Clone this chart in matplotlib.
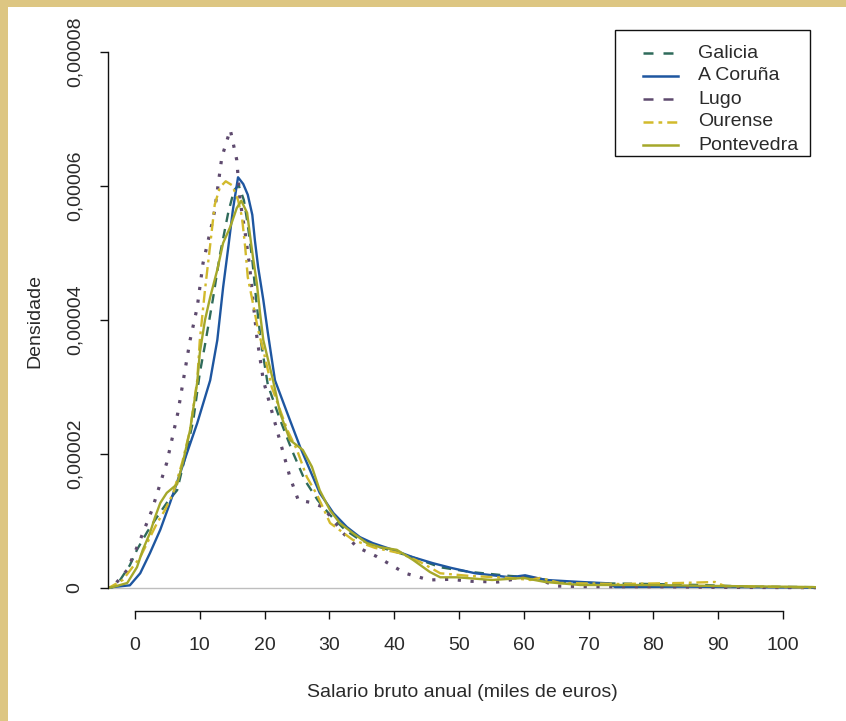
import numpy as np
import matplotlib
matplotlib.use('Agg')
import matplotlib.pyplot as plt
from matplotlib.patches import Rectangle
from matplotlib.lines import Line2D

plt.rcParams['font.family'] = ['Liberation Sans', 'DejaVu Sans']

# density curves (x in miles de euros, y in units of 1e-6)
galicia_x = [-4.5, -3.5, -2.3, -0.8, 0.3, 1.9, 3.4, 4.9, 6.5, 8.0, 9.0, 10.0, 10.8, 12.0, 13.1, 14.4, 15.3, 16.0,
             16.8, 17.4, 18.1, 18.7, 19.4, 20.5, 22.4, 24.2, 26.2, 28.2, 30.1, 32.4, 34.7, 37.8, 40.9, 44.0, 47.1,
             51.7, 57.9, 61.0, 65.6, 71.8, 79.5, 87.2, 94.9, 102.6, 105.5]
galicia_y = [0.0, 0.1, 1.2, 3.4, 5.7, 8.4, 10.6, 12.7, 14.6, 20.6, 25.1, 32.1, 36.3, 43.0, 49.7, 56.1, 59.4, 60.1,
             57.9, 54.2, 49.0, 43.0, 37.0, 30.3, 25.1, 20.6, 16.1, 13.1, 10.9, 8.7, 7.2, 6.1, 5.2, 4.2, 3.1,
             2.4, 1.8, 1.6, 0.9, 0.7, 0.6, 0.45, 0.2, 0.15, 0.1]

coruna_x = [-4.5, -3.9, -0.8, 0.8, 2.3, 3.9, 5.4, 6.6, 8.0, 9.6, 11.6, 12.7, 13.6, 14.4, 15.1, 15.9, 16.7, 17.4,
            18.1, 18.5, 19.0, 19.8, 20.5, 21.6, 23.5, 25.5, 27.0, 28.5, 30.6, 32.7, 34.7, 36.7, 39.8, 42.9, 46.0,
            48.8, 52.5, 57.9, 60.2, 63.4, 68.8, 73.1, 74.1, 85.0, 105.5]
coruna_y = [0.0, 0.1, 0.4, 2.2, 5.2, 8.7, 12.7, 16.1, 20.1, 24.6, 31.0, 37.0, 44.9, 50.9, 56.4, 61.3, 60.3, 58.7,
            55.7, 51.9, 47.9, 43.0, 38.1, 31.0, 26.1, 21.0, 17.6, 14.2, 11.2, 9.1, 7.6, 6.7, 5.7, 4.6, 3.7,
            3.0, 2.2, 1.6, 1.9, 1.2, 0.9, 0.7, 0.15, 0.2, 0.05]

lugo_x = [-4.5, -3.4, -1.2, 0.8, 2.6, 4.9, 6.6, 8.5, 9.6, 10.5, 12.0, 12.3, 13.4, 14.7, 15.7, 16.2, 17.0, 17.7,
          18.2, 18.8, 19.8, 21.9, 23.9, 25.2, 27.0, 29.0, 32.1, 34.3, 37.3, 41.7, 45.4, 48.6, 52.0, 56.0, 60.3,
          62.0, 65.0, 70.0, 80.0, 90.0, 105.5]
lugo_y = [0.0, 0.2, 2.7, 7.2, 11.6, 18.7, 26.1, 37.0, 41.9, 48.5, 54.9, 56.4, 64.3, 68.4, 63.9, 57.9, 53.0, 47.9,
          43.0, 37.5, 31.0, 23.6, 16.6, 13.1, 12.8, 12.1, 8.2, 6.1, 4.7, 2.2, 1.2, 1.3, 1.0, 0.9, 1.6,
          1.4, 0.3, 0.2, 0.2, 0.1, 0.05]

ourense_x = [-4.5, -3.9, -1.9, 0.8, 3.4, 4.6, 5.9, 7.3, 8.5, 9.6, 10.0, 10.8, 11.6, 12.3, 13.1, 14.0, 15.0, 15.9,
             16.5, 17.0, 17.4, 18.1, 19.0, 19.8, 21.1, 23.5, 25.0, 26.5, 28.1, 30.1, 33.6, 37.0, 40.9, 44.0,
             47.1, 51.7, 57.9, 61.0, 62.5, 65.6, 74.8, 84.1, 89.5, 91.0, 105.5]
ourense_y = [0.0, 0.1, 1.2, 4.6, 9.7, 11.6, 14.2, 18.8, 23.6, 31.0, 37.0, 44.5, 51.2, 57.2, 59.8, 60.7, 60.1, 57.9,
             55.4, 50.9, 46.4, 43.0, 38.5, 35.5, 30.0, 23.6, 20.6, 16.6, 13.9, 9.7, 7.2, 6.0, 5.2, 3.9,
             2.2, 1.8, 1.5, 1.2, 1.5, 0.75, 0.6, 0.75, 0.9, 0.3, 0.05]

ponte_x = [-4.5, -3.4, -1.2, 0.3, 1.2, 2.3, 3.1, 3.9, 4.9, 6.5, 7.4, 8.5, 9.6, 10.0, 10.8, 11.6, 12.7, 13.6, 14.7,
           15.7, 16.4, 17.3, 17.7, 18.2, 18.8, 19.3, 19.8, 21.3, 22.4, 23.9, 25.9, 27.3, 28.5, 30.1, 31.6, 33.6,
           35.8, 37.8, 40.4, 42.9, 45.5, 47.1, 49.7, 55.1, 60.0, 63.3, 68.7, 79.5, 90.3, 104.5, 105.5]
ponte_y = [0.0, 0.15, 0.75, 3.1, 5.7, 8.2, 10.6, 12.7, 14.2, 15.5, 18.8, 23.6, 30.7, 35.1, 40.0, 43.4, 47.5, 51.5, 53.9,
           56.7, 57.8, 56.0, 53.0, 49.4, 45.5, 41.0, 37.0, 31.0, 26.1, 22.1, 20.6, 18.1, 14.6, 11.6, 9.7, 8.2,
           6.7, 6.1, 5.7, 4.2, 2.4, 1.6, 1.6, 1.2, 1.5, 0.9, 0.45, 0.45, 0.3, 0.15, 0.1]

names = ['Galicia', 'A Coruña', 'Lugo', 'Ourense', 'Pontevedra']
colors = ['#2F6B5B', '#1E56A0', '#5E4A6E', '#D2BA2C', '#A5A82A']
xticks = [0, 10, 20, 30, 40, 50, 60, 70, 80, 90, 100]
yticks = [0, 0.00002, 0.00004, 0.00006, 0.00008]
ytick_labels = ['0', '0,00002', '0,00004', '0,00006', '0,00008']

FS = 14
TXT = '#2a2a2a'
W, H = 846, 721
fig = plt.figure(figsize=(W / 100, H / 100), dpi=100, facecolor='#DDC682')
fig.add_artist(Rectangle((8 / W, 0), 1, 1 - 7 / H, transform=fig.transFigure,
                         facecolor='white', edgecolor='none', zorder=-5))

ax = fig.add_axes([108 / W, 1 - 611 / H, (816 - 108) / W, (611 - 31) / H])
ax.patch.set_visible(False)

ax.axhline(0, color='#BEBEBE', lw=1.0, zorder=1)

series = [(galicia_x, galicia_y), (coruna_x, coruna_y), (lugo_x, lugo_y),
          (ourense_x, ourense_y), (ponte_x, ponte_y)]
styles = [dict(ls=(0, (4, 3)), lw=1.7),
          dict(ls='-', lw=1.7),
          dict(ls=(0, (1, 3)), lw=2.3),
          dict(ls=(0, (5, 2, 1.2, 2)), lw=1.7),
          dict(ls='-', lw=1.7)]
for (xs, ys), c, st in zip(series, colors, styles):
    ax.plot(xs, np.array(ys) * 1e-6, color=c, zorder=2, **st)

ax.set_xlim(-4.17, 105.1)
ax.set_ylim(-3.43e-6, 8.313e-5)

for s in ['top', 'right']:
    ax.spines[s].set_visible(False)
ax.spines['left'].set_bounds(0, 0.00008)
ax.spines['bottom'].set_bounds(0, 100)
for s in ['left', 'bottom']:
    ax.spines[s].set_linewidth(1.0)
    ax.spines[s].set_color('#111111')

ax.set_xticks(xticks)
ax.set_yticks(yticks)
ax.set_yticklabels(ytick_labels, rotation=90, va='center')
ax.tick_params(axis='both', length=6, width=1.0, color='#111111', labelsize=FS, labelcolor=TXT)
ax.tick_params(axis='x', pad=12.5)
ax.tick_params(axis='y', pad=11.5)

ax.set_xlabel('Salario bruto anual (miles de euros)', fontsize=FS, color=TXT, labelpad=22)
ax.set_ylabel('Densidade', fontsize=FS, color=TXT, labelpad=17)

# legend box, drawn in figure pixels like the original
def fx(px):
    return px / W

def fy(py):
    return 1 - py / H

fig.add_artist(Rectangle((fx(615), fy(156)), fx(810) - fx(615), fy(30) - fy(156),
                         transform=fig.transFigure, facecolor='white', edgecolor='#111111', lw=1.0, zorder=5))
legend_styles = [dict(ls=(0, (4, 4)), lw=1.8),
                 dict(ls='-', lw=1.8),
                 dict(ls=(0, (4, 4)), lw=1.8),
                 dict(ls=(0, (4, 2, 1.5, 2)), lw=1.8),
                 dict(ls='-', lw=1.8)]
for i, (name, c, st) in enumerate(zip(names, colors, legend_styles)):
    yy = 53 + i * 23
    fig.add_artist(Line2D([fx(643), fx(678)], [fy(yy), fy(yy)], transform=fig.transFigure,
                          color=c, zorder=6, **st))
    fig.text(fx(698), fy(yy), name, fontsize=FS, color=TXT, va='center', ha='left', zorder=6)

fig.savefig('out.png', dpi=100, facecolor=fig.get_facecolor())
